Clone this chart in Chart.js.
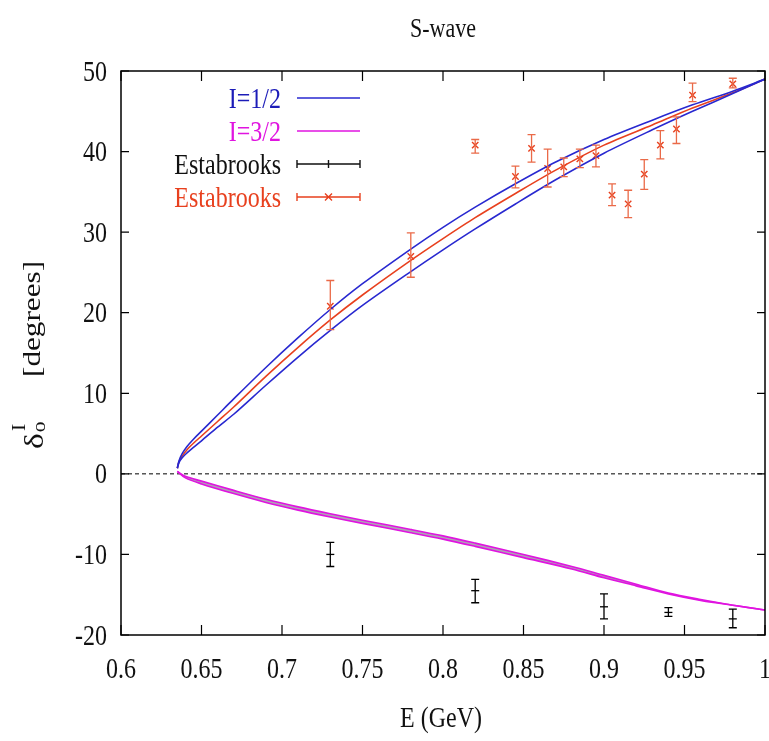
<!DOCTYPE HTML>
<html>
<head>
	<title>S-wave</title>
	<script src="https://cdn.jsdelivr.net/npm/chart.js@4/dist/chart.umd.min.js"></script>
	<style>
		body { margin: 0; background: #fff; }
		#wrap { width: 769px; height: 741px; }
	</style>
</head>
<body>
	<div id="wrap">
		<canvas id="myChart"></canvas>
	</div>
	<script>
		// tick labels
		const xTicks = [0.6, 0.65, 0.7, 0.75, 0.8, 0.85, 0.9, 0.95, 1];
		const yTicks = [-20, -10, 0, 10, 20, 30, 40, 50];

		// I=1/2 band (upper / central / lower)
		const curveE = [0.635, 0.636, 0.638, 0.641, 0.645, 0.65, 0.66, 0.67, 0.69, 0.71, 0.73, 0.75, 0.78, 0.8, 0.82, 0.845, 0.87, 0.9, 0.93, 0.955, 0.98, 1.0];
		const halfUpper = [0.7, 1.6, 2.5, 3.4, 4.3, 5.3, 7.3, 9.3, 13.2, 16.9, 20.4, 23.6, 27.9, 30.6, 33.1, 36.0, 38.7, 41.5, 43.9, 45.8, 47.5, 49.0];
		const halfCentral = [0.7, 1.5, 2.2, 3.0, 3.8, 4.7, 6.5, 8.3, 12.1, 15.7, 19.1, 22.2, 26.5, 29.2, 31.8, 34.8, 37.7, 40.8, 43.3, 45.4, 47.3, 49.0];
		const halfLower = [0.7, 1.4, 2.0, 2.6, 3.3, 4.1, 5.8, 7.4, 11.0, 14.5, 17.8, 20.9, 25.1, 27.8, 30.4, 33.5, 36.5, 39.8, 42.7, 45.0, 47.2, 49.0];

		// I=3/2 band
		const threeE = [0.635, 0.64, 0.65, 0.67, 0.69, 0.71, 0.73, 0.75, 0.78, 0.8, 0.82, 0.85, 0.88, 0.9, 0.92, 0.94, 0.96, 0.98, 1.0];
		const threeUpper = [0.3, -0.3, -0.9, -2.05, -3.15, -4.1, -4.95, -5.75, -6.9, -7.7, -8.6, -10.0, -11.5, -12.6, -13.7, -14.8, -15.6, -16.3, -16.9];
		const threeLower = [0.3, -0.5, -1.25, -2.45, -3.55, -4.5, -5.35, -6.15, -7.3, -8.1, -9.0, -10.4, -11.8, -12.9, -13.9, -14.9, -15.7, -16.3, -16.9];

		// Estabrooks I=3/2 (black)
		const blackE = [0.73, 0.82, 0.90, 0.94, 0.98];
		const blackDelta = [-10.0, -14.5, -16.5, -17.2, -18.0];
		const blackLo = [-11.5, -16.0, -18.0, -17.7, -19.1];
		const blackHi = [-8.5, -13.1, -14.9, -16.6, -16.8];

		// Estabrooks I=1/2 (red)
		const redE = [0.73, 0.78, 0.82, 0.845, 0.855, 0.865, 0.875, 0.885, 0.895, 0.905, 0.915, 0.925, 0.935, 0.945, 0.955, 0.98];
		const redDelta = [20.8, 27.0, 40.8, 36.9, 40.4, 37.9, 38.1, 39.1, 39.5, 34.6, 33.5, 37.2, 40.8, 42.8, 47.0, 48.4];
		const redLo = [17.9, 24.4, 39.8, 35.5, 38.7, 35.6, 36.9, 38.0, 38.1, 33.3, 31.8, 35.3, 39.1, 41.0, 46.2, 47.9];
		const redHi = [24.0, 29.9, 41.5, 38.2, 42.1, 40.3, 39.2, 40.3, 40.8, 36.0, 35.2, 39.0, 42.6, 44.3, 48.5, 49.1];

		const BLUE = '#2828d0';
		const RED = '#e8401e';
		const RED_LIGHT = '#ea6a48';
		const MAGENTA = '#e014e0';
		const FONT = '"Liberation Serif", "Times New Roman", serif';

		function pts(xs, ys) {
			return xs.map((x, i) => ({ x: x, y: ys[i] }));
		}

		// draw text a bit taller than wide, like the original
		function txt(ctx, s, x, y, align, size, color) {
			ctx.save();
			ctx.translate(x, y);
			ctx.scale(1, 1.2);
			ctx.font = size + 'px ' + FONT;
			ctx.textAlign = align;
			ctx.textBaseline = 'alphabetic';
			ctx.fillStyle = color;
			ctx.fillText(s, 0, 0);
			ctx.restore();
		}

		function errBar(ctx, x, y1, y2, cap) {
			ctx.beginPath();
			ctx.moveTo(x, y1); ctx.lineTo(x, y2);
			ctx.moveTo(x - cap, y1); ctx.lineTo(x + cap, y1);
			ctx.moveTo(x - cap, y2); ctx.lineTo(x + cap, y2);
			ctx.stroke();
		}

		const errorBars = {
			id: 'errorBars',
			afterDatasetsDraw(chart) {
				const ctx = chart.ctx;
				const xs = chart.scales.x, ys = chart.scales.y;
				ctx.save();
				ctx.lineWidth = 1.3;
				ctx.strokeStyle = '#000';
				blackE.forEach((e, i) => {
					errBar(ctx, xs.getPixelForValue(e), ys.getPixelForValue(blackLo[i]), ys.getPixelForValue(blackHi[i]), 4);
				});
				ctx.strokeStyle = RED_LIGHT;
				redE.forEach((e, i) => {
					errBar(ctx, xs.getPixelForValue(e), ys.getPixelForValue(redLo[i]), ys.getPixelForValue(redHi[i]), 4);
				});
				ctx.restore();
			}
		};

		const decorations = {
			id: 'decorations',
			afterDraw(chart) {
				const ctx = chart.ctx;
				const a = chart.chartArea;
				const xs = chart.scales.x, ys = chart.scales.y;
				ctx.save();

				// frame
				ctx.strokeStyle = '#000';
				ctx.lineWidth = 1.5;
				ctx.strokeRect(a.left, a.top, a.right - a.left, a.bottom - a.top);

				// inward ticks + labels
				ctx.lineWidth = 1.2;
				ctx.beginPath();
				xTicks.forEach(v => {
					const px = xs.getPixelForValue(v);
					ctx.moveTo(px, a.bottom); ctx.lineTo(px, a.bottom - 10);
					ctx.moveTo(px, a.top); ctx.lineTo(px, a.top + 10);
				});
				yTicks.forEach(v => {
					const py = ys.getPixelForValue(v);
					ctx.moveTo(a.left, py); ctx.lineTo(a.left + 8, py);
					ctx.moveTo(a.right, py); ctx.lineTo(a.right - 8, py);
				});
				ctx.stroke();

				xTicks.forEach(v => {
					txt(ctx, String(v), xs.getPixelForValue(v), 678, 'center', 24, '#111');
				});
				yTicks.forEach(v => {
					txt(ctx, String(v), 107, ys.getPixelForValue(v) + 9.5, 'right', 24, '#111');
				});

				// titles
				txt(ctx, 'S-wave', (a.left + a.right) / 2, 37, 'center', 22, '#111');
				txt(ctx, 'E (GeV)', (a.left + a.right) / 2 - 2, 727, 'center', 24, '#111');

				// y title, rotated
				ctx.save();
				ctx.translate(43, 449);
				ctx.rotate(-Math.PI / 2);
				ctx.scale(1.2, 1);
				ctx.fillStyle = '#111';
				ctx.textBaseline = 'alphabetic';
				ctx.textAlign = 'left';
				ctx.font = '28px ' + FONT;
				ctx.fillText('\u03b4', 0, 0);
				ctx.font = '18px ' + FONT;
				ctx.fillText('I', 15, -18);
				ctx.fillText('o', 14, 2);
				ctx.font = '26px ' + FONT;
				ctx.fillText('[degrees]', 60, -3);
				ctx.restore();

				// legend
				const rows = [
					{ label: 'I=1/2', color: '#1c1cb8', line: BLUE, y: 98, kind: 'line' },
					{ label: 'I=3/2', color: MAGENTA, line: MAGENTA, y: 131, kind: 'line' },
					{ label: 'Estabrooks', color: '#111', line: '#111', y: 164, kind: 'err' },
					{ label: 'Estabrooks', color: RED, line: RED_LIGHT, y: 197, kind: 'errx' }
				];
				const x0 = 297, x1 = 360;
				rows.forEach(r => {
					txt(ctx, r.label, 281, r.y + 9.5, 'right', 24, r.color);
					ctx.strokeStyle = r.line;
					ctx.lineWidth = 1.4;
					ctx.beginPath();
					ctx.moveTo(x0, r.y); ctx.lineTo(x1, r.y);
					if (r.kind !== 'line') {
						ctx.moveTo(x0, r.y - 4); ctx.lineTo(x0, r.y + 4);
						ctx.moveTo(x1, r.y - 4); ctx.lineTo(x1, r.y + 4);
					}
					const xm = (x0 + x1) / 2;
					if (r.kind === 'err') {
						ctx.moveTo(xm, r.y - 4); ctx.lineTo(xm, r.y + 4);
					}
					if (r.kind === 'errx') {
						ctx.strokeStyle = RED;
						ctx.moveTo(xm - 3.5, r.y - 3.5); ctx.lineTo(xm + 3.5, r.y + 3.5);
						ctx.moveTo(xm - 3.5, r.y + 3.5); ctx.lineTo(xm + 3.5, r.y - 3.5);
					}
					ctx.stroke();
				});

				ctx.restore();
			}
		};

		const lineDefaults = {
			pointRadius: 0,
			borderWidth: 1.6,
			tension: 0.3,
			fill: false
		};

		const data = {
			datasets: [
				Object.assign({ label: 'I=3/2 upper', data: pts(threeE, threeUpper), borderColor: MAGENTA }, lineDefaults),
				Object.assign({}, lineDefaults, { label: 'I=3/2 lower', data: pts(threeE, threeLower), borderColor: MAGENTA, fill: '-1', backgroundColor: 'rgba(110,90,120,0.55)' }),
				{
					label: 'zero',
					data: [{ x: 0.6, y: 0 }, { x: 1, y: 0 }],
					borderColor: '#000',
					borderWidth: 1,
					borderDash: [4, 3],
					pointRadius: 0
				},
				Object.assign({ label: 'I=1/2 upper', data: pts(curveE, halfUpper), borderColor: BLUE }, lineDefaults),
				Object.assign({ label: 'I=1/2 lower', data: pts(curveE, halfLower), borderColor: BLUE }, lineDefaults),
				Object.assign({ label: 'I=1/2', data: pts(curveE, halfCentral), borderColor: RED }, lineDefaults),
				{
					label: 'Estabrooks',
					data: pts(blackE, blackDelta),
					showLine: false,
					pointStyle: 'line',
					pointRadius: 4,
					borderColor: '#000',
					borderWidth: 1.3
				},
				{
					label: 'Estabrooks',
					data: pts(redE, redDelta),
					showLine: false,
					pointStyle: 'crossRot',
					pointRadius: 4.5,
					borderColor: RED,
					borderWidth: 1.4
				}
			]
		};

		const config = {
			type: 'line',
			data: data,
			options: {
				responsive: true,
				maintainAspectRatio: false,
				animation: false,
				devicePixelRatio: 1,
				layout: {
					autoPadding: false,
					padding: { top: 71, right: 4, left: 0, bottom: 0 }
				},
				plugins: {
					legend: { display: false },
					tooltip: { enabled: false }
				},
				scales: {
					x: {
						type: 'linear',
						min: 0.6,
						max: 1,
						ticks: { display: false },
						grid: { display: false },
						border: { display: false },
						afterFit: s => { s.height = 106; }
					},
					y: {
						type: 'linear',
						min: -20,
						max: 50,
						ticks: { display: false },
						grid: { display: false },
						border: { display: false },
						afterFit: s => { s.width = 121; }
					}
				}
			},
			plugins: [errorBars, decorations]
		};

		const myChart = new Chart(document.getElementById('myChart'), config);
	</script>
</body>
</html>
